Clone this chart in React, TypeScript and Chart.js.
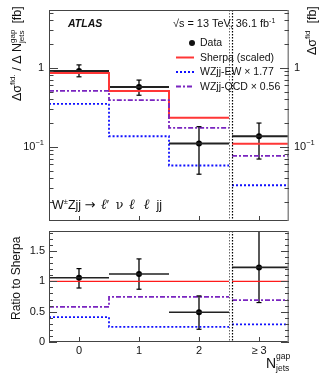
import React, { useEffect, useRef } from 'react';
import { Chart, registerables } from 'chart.js';

Chart.register(...registerables);

// ---------- data ----------
const categories = ['0', '1', '2', '≥ 3'];
const binCenters = [0, 1, 2, 3];
const binLow = [-0.5, 0.5, 1.5, 2.55];
const binHigh = [0.5, 1.5, 2.5, 3.5];

const dataXs = [0.915, 0.57, 0.11, 0.136];
const dataXsUp = [1.09, 0.7, 0.18, 0.2];
const dataXsDown = [0.77, 0.45, 0.045, 0.07];
const sherpaXs = [0.86, 0.51, 0.233, 0.109];
const ewXs = [0.35, 0.136, 0.058, 0.0326];
const qcdXs = [0.51, 0.39, 0.174, 0.077];

const dataRatio = [1.06, 1.12, 0.49, 1.23];
const dataRatioUp = [1.21, 1.37, 0.76, 1.95];
const dataRatioDown = [0.89, 0.87, 0.21, 0.65];
const sherpaRatio = [1, 1, 1, 1];
const ewRatio = [0.41, 0.25, 0.25, 0.29];
const qcdRatio = [0.58, 0.745, 0.745, 0.69];

const topMajorTicks = [0.1, 1];
const bottomMajorTicks = [0, 0.5, 1, 1.5];
const bottomTickLabels = ['0', '0.5', '1', '1.5'];

const TOP_MIN = 0.0115;
const TOP_MAX = 5.4;
const BOT_MIN = 0;
const BOT_MAX = 1.83;

const FONT = '"Liberation Sans", Arial, Helvetica, sans-serif';
const RED = '#ff3636';
const BLUE = '#1010ff';
const PURPLE = '#7a25c0';

// ---------- helpers ----------
type Pt = { x: number; y: number | null };

function stepSeries(vals: number[]): Pt[] {
  const pts: Pt[] = [];
  for (let i = 0; i < 3; i++) {
    pts.push({ x: binLow[i], y: vals[i] });
    pts.push({ x: binHigh[i], y: vals[i] });
  }
  pts.push({ x: 2.52, y: null });
  pts.push({ x: binLow[3], y: vals[3] });
  pts.push({ x: binHigh[3], y: vals[3] });
  return pts;
}

function barSeries(vals: number[]): Pt[] {
  const pts: Pt[] = [];
  vals.forEach((v, i) => {
    pts.push({ x: binLow[i], y: v });
    pts.push({ x: binHigh[i], y: v });
    pts.push({ x: binHigh[i], y: null });
  });
  return pts;
}

function errSeries(lo: number[], hi: number[]): Pt[] {
  const pts: Pt[] = [];
  lo.forEach((l, i) => {
    pts.push({ x: binCenters[i], y: l });
    pts.push({ x: binCenters[i], y: hi[i] });
    pts.push({ x: binCenters[i], y: null });
  });
  return pts;
}

type Seg = { t: string; size: number; dy?: number; style?: string; family?: string; noAdvance?: boolean };

function drawRich(ctx: CanvasRenderingContext2D, segs: Seg[], x: number, y: number, measureOnly = false) {
  let cx = x;
  for (const s of segs) {
    ctx.font = `${s.style ?? ''} ${s.size}px ${s.family ?? FONT}`;
    if (!measureOnly) ctx.fillText(s.t, cx, y + (s.dy ?? 0));
    const w = ctx.measureText(s.t).width;
    if (!s.noAdvance) cx += w;
  }
  return cx - x;
}

function drawRotated(ctx: CanvasRenderingContext2D, segs: Seg[], x: number, y: number) {
  ctx.save();
  ctx.translate(x, y);
  ctx.rotate(-Math.PI / 2);
  ctx.textBaseline = 'alphabetic';
  ctx.textAlign = 'left';
  drawRich(ctx, segs, 0, 0);
  ctx.restore();
}

function line(ctx: CanvasRenderingContext2D, x1: number, y1: number, x2: number, y2: number) {
  ctx.beginPath();
  ctx.moveTo(x1, y1);
  ctx.lineTo(x2, y2);
  ctx.stroke();
}

function drawFrameAndSeparators(chart: any) {
  const { ctx, chartArea: a, scales } = chart;
  const xs = scales.x;
  ctx.save();
  // separators
  ctx.lineWidth = 1;
  ctx.strokeStyle = '#666';
  ctx.setLineDash([1.5, 1.5]);
  const s1 = Math.round(xs.getPixelForValue(2.5)) + 0.5;
  line(ctx, s1, a.top, s1, a.bottom);
  ctx.strokeStyle = '#000';
  ctx.lineWidth = 1.2;
  const s2 = Math.round(xs.getPixelForValue(2.55)) + 0.5;
  line(ctx, s2, a.top, s2, a.bottom);
  ctx.setLineDash([]);
  // frame
  ctx.strokeStyle = '#444';
  ctx.lineWidth = 1;
  ctx.strokeRect(a.left + 0.5, a.top + 0.5, a.right - a.left - 1, a.bottom - a.top - 1);
  ctx.strokeStyle = '#8a8a8a';
  ctx.lineWidth = 1.5;
  line(ctx, a.right - 0.75, a.top, a.right - 0.75, a.bottom);
  ctx.strokeStyle = '#444';
  ctx.lineWidth = 1;
  // x ticks
  binCenters.forEach((c) => {
    const px = Math.round(xs.getPixelForValue(c)) + 0.5;
    line(ctx, px, a.bottom, px, a.bottom - 5);
  });
  ctx.restore();
}

function drawCaps(chart: any, lo: number[], hi: number[]) {
  const { ctx, scales } = chart;
  ctx.save();
  ctx.strokeStyle = '#000';
  ctx.lineWidth = 1.2;
  binCenters.forEach((c, i) => {
    const px = scales.x.getPixelForValue(c);
    [lo[i], hi[i]].forEach((v) => {
      const py = scales.y.getPixelForValue(v);
      if (py >= chart.chartArea.top && py <= chart.chartArea.bottom) line(ctx, px - 2.5, py, px + 2.5, py);
    });
  });
  ctx.restore();
}

const topPlugin = {
  id: 'topDecor',
  afterDatasetsDraw(chart: any) {
    const { ctx, chartArea: a, scales } = chart;
    const ys = scales.y;
    drawFrameAndSeparators(chart);
    drawCaps(chart, dataXsDown, dataXsUp);
    ctx.save();
    ctx.strokeStyle = '#444';
    ctx.lineWidth = 1;
    // y ticks (log)
    for (let e = -2; e <= 0; e++) {
      for (let m = 1; m <= 9; m++) {
        const v = m * Math.pow(10, e);
        if (v < TOP_MIN || v > TOP_MAX) continue;
        const py = Math.round(ys.getPixelForValue(v)) + 0.5;
        const len = m === 1 ? 9 : 4.5;
        line(ctx, a.left, py, a.left + len, py);
        line(ctx, a.right, py, a.right - len, py);
      }
    }
    ctx.fillStyle = '#111';
    // y tick labels
    ctx.textBaseline = 'middle';
    topMajorTicks.forEach((v) => {
      const py = ys.getPixelForValue(v);
      const segs: Seg[] = v === 1 ? [{ t: '1', size: 11 }] : [{ t: '10', size: 11 }, { t: '−1', size: 7.5, dy: -4 }];
      const w = drawRich(ctx, segs, 0, 0, true);
      drawRich(ctx, segs, a.left - 5 - w, py);
      drawRich(ctx, segs, a.right + 5, py);
    });
    // ATLAS label
    ctx.textBaseline = 'alphabetic';
    ctx.font = `italic bold 10.5px ${FONT}`;
    ctx.fillText('ATLAS', 68, 27);
    drawRich(ctx, [{ t: '√s = 13 TeV, 36.1 fb', size: 10.9 }, { t: '-1', size: 7, dy: -4 }], 173, 27);
    // legend
    ctx.textBaseline = 'middle';
    ctx.font = `10.5px ${FONT}`;
    ctx.beginPath();
    ctx.arc(192, 43, 3, 0, Math.PI * 2);
    ctx.fill();
    ctx.fillText('Data', 200, 43.5);
    ctx.fillText('Sherpa (scaled)', 200, 58);
    ctx.fillText('WZjj-EW × 1.77', 200, 72.5);
    ctx.fillText('WZjj-QCD × 0.56', 200, 87);
    ctx.strokeStyle = RED;
    ctx.lineWidth = 2;
    line(ctx, 176, 57.5, 194, 57.5);
    ctx.strokeStyle = BLUE;
    ctx.setLineDash([2, 2]);
    line(ctx, 176, 72, 194, 72);
    ctx.strokeStyle = PURPLE;
    ctx.setLineDash([5, 2, 2, 2]);
    line(ctx, 176, 86.5, 194, 86.5);
    ctx.setLineDash([]);
    // process label
    ctx.textBaseline = 'alphabetic';
    const serifIt = '"DejaVu Serif", "Liberation Serif", serif';
    drawRich(
      ctx,
      [
        { t: 'W', size: 12.5 },
        { t: '±', size: 7.5, dy: -5 },
        { t: 'Zjj ', size: 12.5 },
        { t: '→', size: 13, family: '"DejaVu Sans", sans-serif' },
        { t: '  ', size: 10 },
        { t: 'ℓ', size: 14, style: 'italic', family: serifIt },
        { t: '′  ', size: 12 },
        { t: 'ν', size: 12.5, family: '"DejaVu Serif", serif' },
        { t: '  ', size: 10 },
        { t: 'ℓ  ℓ', size: 14, style: 'italic', family: serifIt },
        { t: '  jj', size: 12.5 },
      ],
      52,
      209
    );
    // axis titles
    drawRotated(
      ctx,
      [
        { t: 'Δσ', size: 12.5 },
        { t: 'fid.', size: 8, dy: -6 },
        { t: ' / Δ N', size: 12.5 },
        { t: 'gap', size: 8, dy: -6, noAdvance: true },
        { t: 'jets', size: 8, dy: 3 },
        { t: '  [fb]', size: 12.5 },
      ],
      20.5,
      101
    );
    drawRotated(
      ctx,
      [
        { t: 'Δσ', size: 12.5 },
        { t: 'fid', size: 8, dy: -6 },
        { t: '  [fb]', size: 12.5 },
      ],
      316,
      55
    );
    ctx.restore();
  },
};

const BOT_TOP = 226;

const bottomPlugin = {
  id: 'botDecor',
  afterDatasetsDraw(chart: any) {
    const { ctx, chartArea: a, scales } = chart;
    const ys = scales.y;
    const xs = scales.x;
    drawFrameAndSeparators(chart);
    drawCaps(chart, dataRatioDown, dataRatioUp);
    ctx.save();
    ctx.strokeStyle = '#444';
    ctx.lineWidth = 1;
    for (let k = 0; k <= 18; k++) {
      const v = k / 10;
      if (v > BOT_MAX) continue;
      const py = Math.round(ys.getPixelForValue(v)) + 0.5;
      const major = k % 5 === 0;
      const len = major ? 8 : 4;
      line(ctx, a.left, py, a.left + len, py);
      line(ctx, a.right, py, a.right - len, py);
    }
    ctx.fillStyle = '#111';
    ctx.font = `11px ${FONT}`;
    ctx.textBaseline = 'middle';
    ctx.textAlign = 'right';
    bottomMajorTicks.forEach((v, i) => {
      ctx.fillText(bottomTickLabels[i], a.left - 4, ys.getPixelForValue(v));
    });
    ctx.textAlign = 'center';
    ctx.textBaseline = 'alphabetic';
    categories.forEach((c, i) => {
      ctx.fillText(c, xs.getPixelForValue(binCenters[i]), a.bottom + 12);
    });
    ctx.textAlign = 'left';
    drawRotated(ctx, [{ t: 'Ratio to Sherpa', size: 12 }], 19.5, 320 - BOT_TOP);
    drawRich(
      ctx,
      [
        { t: 'N', size: 14 },
        { t: 'gap', size: 8.5, dy: -9, noAdvance: true },
        { t: 'jets', size: 8.5, dy: 3 },
      ],
      266,
      368 - BOT_TOP
    );
    ctx.restore();
  },
};

function makeDatasets(step: { sh: number[]; ew: number[]; qcd: number[] }, data: number[], lo: number[], hi: number[], top: boolean) {
  return [
    {
      data: stepSeries(step.ew),
      borderColor: BLUE,
      borderWidth: 1.8,
      borderDash: [2, 2],
      pointRadius: 0,
      spanGaps: false,
    },
    {
      data: stepSeries(step.qcd),
      borderColor: PURPLE,
      borderWidth: 1.8,
      borderDash: [5, 2, 2, 2],
      pointRadius: 0,
      spanGaps: false,
    },
    {
      data: stepSeries(step.sh),
      borderColor: top ? RED : '#ff1a1a',
      borderWidth: top ? 2 : 1.2,
      pointRadius: 0,
      spanGaps: false,
    },
    {
      data: barSeries(data),
      borderColor: '#222',
      borderWidth: top ? 2 : 1.6,
      pointRadius: 0,
      spanGaps: false,
    },
    {
      data: errSeries(lo, hi),
      borderColor: '#000',
      borderWidth: 1.3,
      pointRadius: 0,
      spanGaps: false,
    },
    {
      data: binCenters.map((c, i) => ({ x: c, y: data[i] })),
      showLine: false,
      pointRadius: 3,
      pointBackgroundColor: '#000',
      pointBorderColor: '#000',
      borderWidth: 0,
    },
  ];
}

export default function App() {
  const topRef = useRef<HTMLCanvasElement>(null);
  const botRef = useRef<HTMLCanvasElement>(null);

  useEffect(() => {
    const common = {
      responsive: false,
      animation: false as const,
      events: [] as any[],
      plugins: { legend: { display: false }, tooltip: { enabled: false } },
    };
    const top = new Chart(topRef.current!, {
      type: 'line',
      data: {
        datasets: makeDatasets({ sh: sherpaXs, ew: ewXs, qcd: qcdXs }, dataXs, dataXsDown, dataXsUp, true) as any,
      },
      options: {
        ...common,
        layout: { padding: { left: 49, right: 43, top: 10, bottom: 7 } },
        scales: {
          x: { type: 'linear', min: -0.5, max: 3.5, display: false },
          y: { type: 'logarithmic', min: TOP_MIN, max: TOP_MAX, display: false },
        },
      },
      plugins: [topPlugin],
    });
    const bot = new Chart(botRef.current!, {
      type: 'line',
      data: {
        datasets: makeDatasets({ sh: sherpaRatio, ew: ewRatio, qcd: qcdRatio }, dataRatio, dataRatioDown, dataRatioUp, false) as any,
      },
      options: {
        ...common,
        layout: { padding: { left: 49, right: 43, top: 231 - BOT_TOP, bottom: 375 - 342 } },
        scales: {
          x: { type: 'linear', min: -0.5, max: 3.5, display: false },
          y: { type: 'linear', min: BOT_MIN, max: BOT_MAX, display: false },
        },
      },
      plugins: [bottomPlugin],
    });
    return () => {
      top.destroy();
      bot.destroy();
    };
  }, []);

  return (
    <div style={{ position: 'fixed', left: 0, top: 0, width: 332, height: 375, background: '#fff' }}>
      <canvas ref={topRef} width={332} height={228} style={{ position: 'absolute', left: 0, top: 0 }} />
      <canvas ref={botRef} width={332} height={375 - BOT_TOP} style={{ position: 'absolute', left: 0, top: BOT_TOP }} />
    </div>
  );
}
